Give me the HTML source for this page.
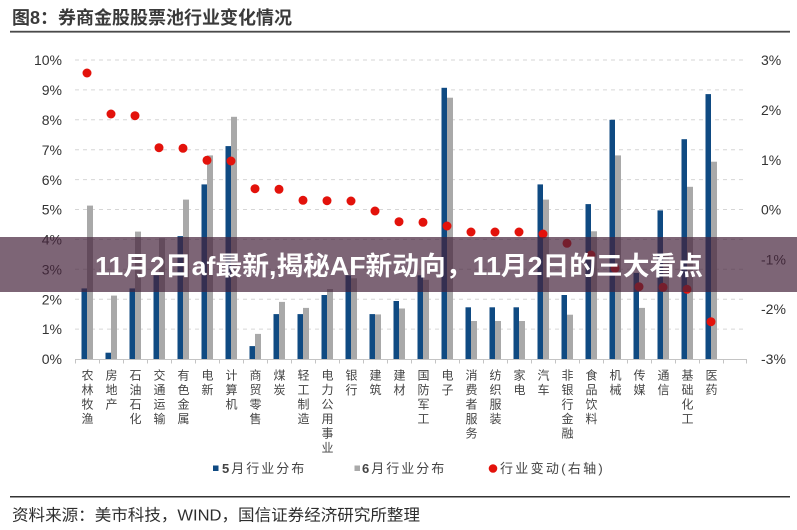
<!DOCTYPE html>
<html><head><meta charset="utf-8">
<style>
html,body{margin:0;padding:0;background:#fff;}
#c{position:relative;width:797px;height:530px;overflow:hidden;background:#fff;font-family:"Liberation Sans","Noto Sans CJK SC",sans-serif;}
svg{position:absolute;left:0;top:0;}
.xl{position:absolute;top:369px;width:16px;writing-mode:vertical-rl;font-family:"Liberation Sans","Noto Sans CJK SC",sans-serif;font-size:12px;letter-spacing:2.5px;line-height:16px;color:#444;}
</style></head><body>
<div id="c">
<svg width="797" height="530" viewBox="0 0 797 530" xmlns="http://www.w3.org/2000/svg">
<!-- title -->
<text x="12" y="24" font-family="Liberation Sans, Noto Sans CJK SC, sans-serif" font-size="18" font-weight="bold" fill="#3a3a3a">图8：券商金股股票池行业变化情况</text>
<rect x="10" y="30.8" width="780" height="1.8" fill="#4a4a4a"/>
<!-- gridlines -->
<g stroke="#d6d6d6" stroke-width="1" stroke-dasharray="4,4">
<line x1="75" y1="60" x2="747" y2="60"/>
<line x1="75" y1="89.9" x2="747" y2="89.9"/>
<line x1="75" y1="119.8" x2="747" y2="119.8"/>
<line x1="75" y1="149.7" x2="747" y2="149.7"/>
<line x1="75" y1="179.6" x2="747" y2="179.6"/>
<line x1="75" y1="209.5" x2="747" y2="209.5"/>
<line x1="75" y1="239.4" x2="747" y2="239.4"/>
<line x1="75" y1="269.3" x2="747" y2="269.3"/>
<line x1="75" y1="299.2" x2="747" y2="299.2"/>
<line x1="75" y1="329.1" x2="747" y2="329.1"/>
</g>
<!-- left axis labels -->
<g font-family="Liberation Sans, sans-serif" font-size="14" fill="#333" text-anchor="end">
<text x="62" y="65">10%</text>
<text x="62" y="95">9%</text>
<text x="62" y="125">8%</text>
<text x="62" y="155">7%</text>
<text x="62" y="185">6%</text>
<text x="62" y="214.5">5%</text>
<text x="62" y="244.5">4%</text>
<text x="62" y="274.5">3%</text>
<text x="62" y="304.5">2%</text>
<text x="62" y="334">1%</text>
<text x="62" y="364">0%</text>
</g>
<!-- right axis labels -->
<g font-family="Liberation Sans, sans-serif" font-size="14" fill="#333" text-anchor="start">
<text x="761" y="65">3%</text>
<text x="761" y="115">2%</text>
<text x="761" y="165">1%</text>
<text x="761" y="214.5">0%</text>
<text x="761" y="264.5">-1%</text>
<text x="761" y="314">-2%</text>
<text x="761" y="364">-3%</text>
</g>
<!-- blue bars -->
<g fill="#0f4a82">
<rect x="81.5" y="288.4" width="5.5" height="70.6"/>
<rect x="105.5" y="352.7" width="5.5" height="6.3"/>
<rect x="129.5" y="288.4" width="5.5" height="70.6"/>
<rect x="153.5" y="275.3" width="5.5" height="83.7"/>
<rect x="177.5" y="236.1" width="5.5" height="122.9"/>
<rect x="201.5" y="184.4" width="5.5" height="174.6"/>
<rect x="225.5" y="146.1" width="5.5" height="212.9"/>
<rect x="249.5" y="346.1" width="5.5" height="12.9"/>
<rect x="273.5" y="314.1" width="5.5" height="44.9"/>
<rect x="297.5" y="314.1" width="5.5" height="44.9"/>
<rect x="321.5" y="295.0" width="5.5" height="64.0"/>
<rect x="345.5" y="275.3" width="5.5" height="83.7"/>
<rect x="369.5" y="314.1" width="5.5" height="44.9"/>
<rect x="393.5" y="301.0" width="5.5" height="58.0"/>
<rect x="417.5" y="275.3" width="5.5" height="83.7"/>
<rect x="441.5" y="87.8" width="5.5" height="271.2"/>
<rect x="465.5" y="307.3" width="5.5" height="51.7"/>
<rect x="489.5" y="307.3" width="5.5" height="51.7"/>
<rect x="513.5" y="307.3" width="5.5" height="51.7"/>
<rect x="537.5" y="184.4" width="5.5" height="174.6"/>
<rect x="561.5" y="295.0" width="5.5" height="64.0"/>
<rect x="585.5" y="204.1" width="5.5" height="154.9"/>
<rect x="609.5" y="119.8" width="5.5" height="239.2"/>
<rect x="633.5" y="272.9" width="5.5" height="86.1"/>
<rect x="657.5" y="210.4" width="5.5" height="148.6"/>
<rect x="681.5" y="139.2" width="5.5" height="219.8"/>
<rect x="705.5" y="94.1" width="5.5" height="264.9"/>
</g>
<!-- grey bars -->
<g fill="#a9a9a9">
<rect x="87" y="205.6" width="6" height="153.4"/>
<rect x="111" y="295.6" width="6" height="63.4"/>
<rect x="135" y="231.6" width="6" height="127.4"/>
<rect x="159" y="238.2" width="6" height="120.8"/>
<rect x="183" y="199.6" width="6" height="159.4"/>
<rect x="207" y="155.4" width="6" height="203.6"/>
<rect x="231" y="116.8" width="6" height="242.2"/>
<rect x="255" y="333.9" width="6" height="25.1"/>
<rect x="279" y="301.9" width="6" height="57.1"/>
<rect x="303" y="307.9" width="6" height="51.1"/>
<rect x="327" y="289.0" width="6" height="70.0"/>
<rect x="351" y="278.3" width="6" height="80.7"/>
<rect x="375" y="314.4" width="6" height="44.6"/>
<rect x="399" y="308.5" width="6" height="50.5"/>
<rect x="423" y="279.8" width="6" height="79.2"/>
<rect x="447" y="97.7" width="6" height="261.3"/>
<rect x="471" y="321.0" width="6" height="38.0"/>
<rect x="495" y="321.0" width="6" height="38.0"/>
<rect x="519" y="321.0" width="6" height="38.0"/>
<rect x="543" y="199.6" width="6" height="159.4"/>
<rect x="567" y="314.7" width="6" height="44.3"/>
<rect x="591" y="231.3" width="6" height="127.7"/>
<rect x="615" y="155.4" width="6" height="203.6"/>
<rect x="639" y="307.9" width="6" height="51.1"/>
<rect x="663" y="254.3" width="6" height="104.7"/>
<rect x="687" y="186.8" width="6" height="172.2"/>
<rect x="711" y="161.7" width="6" height="197.3"/>
</g>
<!-- x axis -->
<line x1="75" y1="359.5" x2="747" y2="359.5" stroke="#c4c4c4" stroke-width="1"/>
<g stroke="#c4c4c4" stroke-width="1">
<line x1="75.5" y1="359.5" x2="75.5" y2="363.5"/><line x1="99.5" y1="359.5" x2="99.5" y2="363.5"/>
<line x1="123.5" y1="359.5" x2="123.5" y2="363.5"/><line x1="147.5" y1="359.5" x2="147.5" y2="363.5"/>
<line x1="171.5" y1="359.5" x2="171.5" y2="363.5"/><line x1="195.5" y1="359.5" x2="195.5" y2="363.5"/>
<line x1="219.5" y1="359.5" x2="219.5" y2="363.5"/><line x1="243.5" y1="359.5" x2="243.5" y2="363.5"/>
<line x1="267.5" y1="359.5" x2="267.5" y2="363.5"/><line x1="291.5" y1="359.5" x2="291.5" y2="363.5"/>
<line x1="315.5" y1="359.5" x2="315.5" y2="363.5"/><line x1="339.5" y1="359.5" x2="339.5" y2="363.5"/>
<line x1="363.5" y1="359.5" x2="363.5" y2="363.5"/><line x1="387.5" y1="359.5" x2="387.5" y2="363.5"/>
<line x1="411.5" y1="359.5" x2="411.5" y2="363.5"/><line x1="435.5" y1="359.5" x2="435.5" y2="363.5"/>
<line x1="459.5" y1="359.5" x2="459.5" y2="363.5"/><line x1="483.5" y1="359.5" x2="483.5" y2="363.5"/>
<line x1="507.5" y1="359.5" x2="507.5" y2="363.5"/><line x1="531.5" y1="359.5" x2="531.5" y2="363.5"/>
<line x1="555.5" y1="359.5" x2="555.5" y2="363.5"/><line x1="579.5" y1="359.5" x2="579.5" y2="363.5"/>
<line x1="603.5" y1="359.5" x2="603.5" y2="363.5"/><line x1="627.5" y1="359.5" x2="627.5" y2="363.5"/>
<line x1="651.5" y1="359.5" x2="651.5" y2="363.5"/><line x1="675.5" y1="359.5" x2="675.5" y2="363.5"/>
<line x1="699.5" y1="359.5" x2="699.5" y2="363.5"/><line x1="723.5" y1="359.5" x2="723.5" y2="363.5"/>
<line x1="746.5" y1="359.5" x2="746.5" y2="363.5"/>
</g>
<!-- red dots -->
<g fill="#e3120b">
<circle cx="87" cy="73" r="4.5"/>
<circle cx="111" cy="114" r="4.5"/>
<circle cx="135" cy="115.7" r="4.5"/>
<circle cx="159" cy="147.7" r="4.5"/>
<circle cx="183" cy="148.3" r="4.5"/>
<circle cx="207" cy="160.3" r="4.5"/>
<circle cx="231" cy="161" r="4.5"/>
<circle cx="255" cy="188.7" r="4.5"/>
<circle cx="279" cy="189.3" r="4.5"/>
<circle cx="303" cy="200.3" r="4.5"/>
<circle cx="327" cy="200.7" r="4.5"/>
<circle cx="351" cy="201" r="4.5"/>
<circle cx="375" cy="211" r="4.5"/>
<circle cx="399" cy="221.7" r="4.5"/>
<circle cx="423" cy="222.3" r="4.5"/>
<circle cx="447" cy="226" r="4.5"/>
<circle cx="471" cy="232" r="4.5"/>
<circle cx="495" cy="232" r="4.5"/>
<circle cx="519" cy="232" r="4.5"/>
<circle cx="543" cy="234" r="4.5"/>
<circle cx="567" cy="243.3" r="4.5"/>
<circle cx="591" cy="255" r="4.5"/>
<circle cx="615" cy="268.3" r="4.5"/>
<circle cx="639" cy="286.7" r="4.5"/>
<circle cx="663" cy="287.3" r="4.5"/>
<circle cx="687" cy="289.3" r="4.5"/>
<circle cx="711" cy="321.7" r="4.5"/>
</g>
<!-- legend -->
<rect x="213" y="465.5" width="5.5" height="5.5" fill="#0f4a82"/>
<text x="222" y="473" font-family="Liberation Sans, Noto Sans CJK SC, sans-serif" font-size="13" letter-spacing="2" fill="#444"><tspan font-weight="bold">5</tspan>月行业分布</text>
<rect x="354.5" y="465.5" width="5.5" height="5.5" fill="#a9a9a9"/>
<text x="362" y="473" font-family="Liberation Sans, Noto Sans CJK SC, sans-serif" font-size="13" letter-spacing="2" fill="#444"><tspan font-weight="bold">6</tspan>月行业分布</text>
<circle cx="493" cy="468.5" r="4.3" fill="#e3120b"/>
<text x="500" y="473" font-family="Liberation Sans, Noto Sans CJK SC, sans-serif" font-size="13" letter-spacing="2.3" fill="#444">行业变动(右轴)</text>
<!-- footer -->
<rect x="10" y="496" width="780" height="1.5" fill="#333"/>
<text x="12" y="520.5" font-family="Liberation Sans, Noto Sans CJK SC, sans-serif" font-size="16" fill="#2e2e2e" textLength="408" lengthAdjust="spacingAndGlyphs">资料来源：美市科技，WIND，国信证券经济研究所整理</text>
<!-- banner overlay -->
<rect x="0" y="237" width="797" height="55" fill="rgb(70,35,60)" fill-opacity="0.7"/>
<text x="95" y="275" font-family="Liberation Sans, Noto Sans CJK SC, sans-serif" font-size="26" font-weight="bold" fill="#ffffff" textLength="608" lengthAdjust="spacingAndGlyphs">11月2日af最新,揭秘AF新动向，11月2日的三大看点</text>
</svg>
<div class="xl" style="left:79px">农林牧渔</div>
<div class="xl" style="left:103px">房地产</div>
<div class="xl" style="left:127px">石油石化</div>
<div class="xl" style="left:151px">交通运输</div>
<div class="xl" style="left:175px">有色金属</div>
<div class="xl" style="left:199px">电新</div>
<div class="xl" style="left:223px">计算机</div>
<div class="xl" style="left:247px">商贸零售</div>
<div class="xl" style="left:271px">煤炭</div>
<div class="xl" style="left:295px">轻工制造</div>
<div class="xl" style="left:319px">电力公用事业</div>
<div class="xl" style="left:343px">银行</div>
<div class="xl" style="left:367px">建筑</div>
<div class="xl" style="left:391px">建材</div>
<div class="xl" style="left:415px">国防军工</div>
<div class="xl" style="left:439px">电子</div>
<div class="xl" style="left:463px">消费者服务</div>
<div class="xl" style="left:487px">纺织服装</div>
<div class="xl" style="left:511px">家电</div>
<div class="xl" style="left:535px">汽车</div>
<div class="xl" style="left:559px">非银行金融</div>
<div class="xl" style="left:583px">食品饮料</div>
<div class="xl" style="left:607px">机械</div>
<div class="xl" style="left:631px">传媒</div>
<div class="xl" style="left:655px">通信</div>
<div class="xl" style="left:679px">基础化工</div>
<div class="xl" style="left:703px">医药</div>
</div>
</body></html>
